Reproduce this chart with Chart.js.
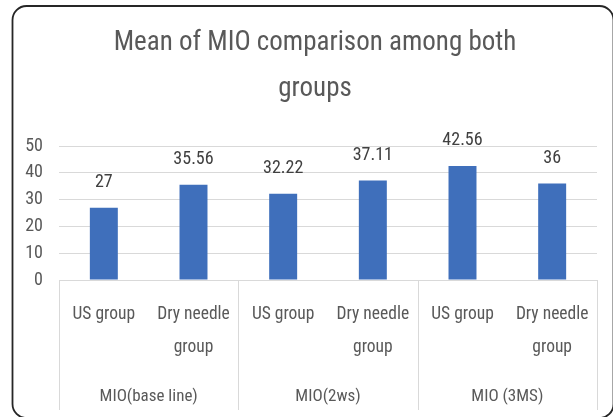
<!DOCTYPE html>
<html>
<head>
<meta charset="utf-8">
<script src="https://cdn.jsdelivr.net/npm/chart.js@4/dist/chart.umd.min.js"></script>
<style>
  html, body { margin: 0; padding: 0; background: #ffffff; }
  canvas { display: block; }
</style>
</head>
<body>
<canvas id="c" width="613" height="417"></canvas>
<script>
// ---- data ----
const titleLines = ['Mean of MIO comparison among both', 'groups'];
const groups = ['MIO(base line)', 'MIO(2ws)', 'MIO (3MS)'];
const subgroupLines = [['US group'], ['Dry needle', 'group']];
const values = [27, 35.56, 32.22, 37.11, 42.56, 36];
const yTicks = [0, 10, 20, 30, 40, 50];

// ---- build ----
const FONT = "'Roboto Condensed', 'Liberation Sans', sans-serif";
const labels = [];
groups.forEach(() => subgroupLines.forEach(l => labels.push(l.length === 1 ? l[0] : l)));

const decorPlugin = {
  id: 'decor',
  beforeDraw(chart) {
    const ctx = chart.ctx;
    ctx.save();
    ctx.fillStyle = '#ffffff';
    ctx.fillRect(0, 0, chart.width, chart.height);
    ctx.restore();
  },
  afterDraw(chart) {
    const ctx = chart.ctx;
    const xs = chart.scales.x;
    ctx.save();
    // title
    ctx.fillStyle = '#595959';
    ctx.font = '27px ' + FONT;
    ctx.textAlign = 'center';
    ctx.textBaseline = 'alphabetic';
    titleLines.forEach((t, i) => ctx.fillText(t, 315, 50 + i * 46));
    // separators
    ctx.strokeStyle = '#d9d9d9';
    ctx.lineWidth = 1;
    const per = subgroupLines.length;
    const bounds = [xs.left];
    for (let g = 1; g < groups.length; g++) {
      bounds.push((xs.getPixelForValue(g * per - 1) + xs.getPixelForValue(g * per)) / 2);
    }
    bounds.push(xs.right);
    bounds.forEach(bx => {
      const px = Math.round(bx) + 0.5;
      ctx.beginPath();
      ctx.moveTo(px, xs.top);
      ctx.lineTo(px, xs.top + 130);
      ctx.stroke();
    });
    // group labels
    ctx.fillStyle = '#595959';
    ctx.font = '17px ' + FONT;
    ctx.textAlign = 'center';
    ctx.textBaseline = 'middle';
    groups.forEach((g, i) => {
      ctx.fillText(g, (bounds[i] + bounds[i + 1]) / 2, xs.top + 117);
    });
    // data labels
    const meta = chart.getDatasetMeta(0);
    ctx.fillStyle = '#404040';
    ctx.font = '18px ' + FONT;
    ctx.textBaseline = 'alphabetic';
    meta.data.forEach((bar, i) => {
      ctx.fillText(String(values[i]), bar.x, bar.y - 21);
    });
    // outer rounded border
    ctx.strokeStyle = '#262626';
    ctx.lineWidth = 1.8;
    ctx.beginPath();
    ctx.roundRect(12.5, 6, 601, 412, 14);
    ctx.stroke();
    ctx.restore();
  }
};

new Chart(document.getElementById('c'), {
  type: 'bar',
  data: {
    labels: labels,
    datasets: [{
      data: values,
      backgroundColor: '#3F6FBB',
      borderWidth: 0,
      barPercentage: 0.312,
      categoryPercentage: 1.0
    }]
  },
  options: {
    responsive: false,
    animation: false,
    devicePixelRatio: 1,
    layout: { padding: { left: 0, right: 16, top: 146, bottom: 0 } },
    plugins: {
      legend: { display: false },
      tooltip: { enabled: false },
      title: { display: false }
    },
    scales: {
      x: {
        grid: { display: false, drawTicks: false },
        border: { display: true, color: '#d9d9d9', width: 1 },
        ticks: {
          color: '#595959',
          font: { family: FONT, size: 17.5, lineHeight: 33 / 17.5 },
          padding: 18.5,
          autoSkip: false,
          maxRotation: 0,
          minRotation: 0
        },
        afterFit(scale) { scale.height = 137; }
      },
      y: {
        min: 0,
        max: 50,
        afterBuildTicks(scale) { scale.ticks = yTicks.map(v => ({ value: v })); },
        grid: { color: '#d9d9d9', lineWidth: 1, drawTicks: false },
        border: { display: false },
        ticks: {
          color: '#595959',
          font: { family: FONT, size: 18 },
          padding: 16
        },
        afterFit(scale) { scale.width = 59; }
      }
    }
  },
  plugins: [decorPlugin]
});
</script>
</body>
</html>
